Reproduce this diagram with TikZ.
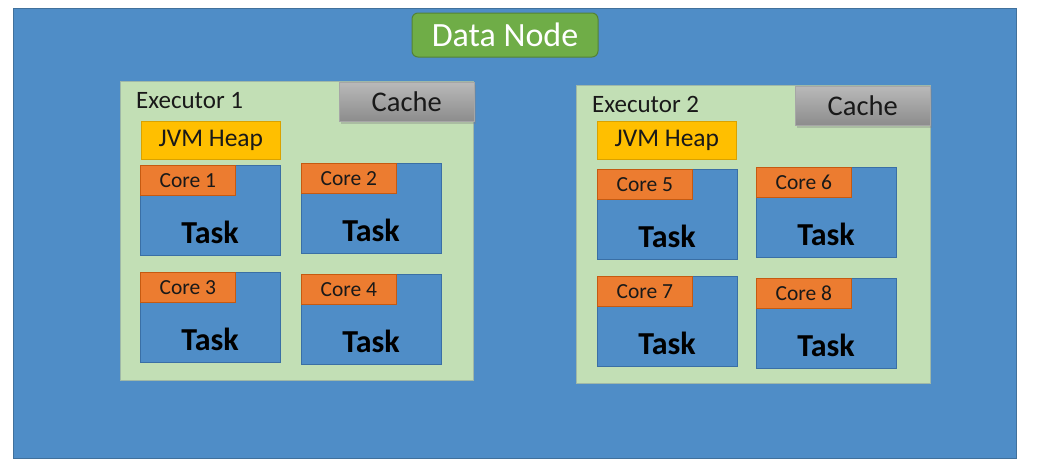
\documentclass[tikz,border=0pt]{standalone}
\usepackage{fontspec}
\setmainfont{Carlito}
\usetikzlibrary{shadows}
\definecolor{nodeblue}{HTML}{4F8DC7}
\definecolor{nodeline}{HTML}{41719C}
\definecolor{execgreen}{HTML}{C2DFB5}
\definecolor{execline}{HTML}{9FB8A8}
\definecolor{dngreen}{HTML}{6FAD47}
\definecolor{dnline}{HTML}{548235}
\definecolor{coreorange}{HTML}{EC7C30}
\definecolor{coreline}{HTML}{C55A11}
\definecolor{heapyellow}{HTML}{FFBF00}
\definecolor{heapline}{HTML}{D9A200}
\definecolor{taskline}{HTML}{3A6FA5}

\begin{document}
\begin{tikzpicture}
[x=1pt, y=-1pt,
 datanode/.style={draw=dnline, fill=dngreen, line width=1pt, rounded corners=6pt,
   minimum width=186pt, minimum height=44pt, text=white, font=\fontsize{34}{34}\selectfont},
 execbox/.style={draw=execline, fill=execgreen, line width=0.8pt, anchor=north west, inner sep=0pt},
 execlabel/.style={anchor=base west, inner sep=0pt, text=black!90, font=\fontsize{25}{25}\selectfont},
 cachebox/.style={anchor=north west, minimum width=135pt, minimum height=39pt, inner sep=0pt,
   top color=gray!55, bottom color=gray!90, draw=gray!70, line width=0.5pt,
   drop shadow={shadow xshift=2pt, shadow yshift=-3pt, opacity=0.35},
   text=black!90, font=\fontsize{28.5}{28.5}\selectfont},
 heapbox/.style={draw=heapline, fill=heapyellow, line width=0.8pt, anchor=north west,
   minimum width=139pt, minimum height=38pt, inner sep=0pt, text=black!90,
   font=\fontsize{25.5}{25.5}\selectfont},
 taskbox/.style={draw=taskline, fill=nodeblue, line width=0.8pt, anchor=north west,
   minimum width=140pt, minimum height=90pt, inner sep=0pt},
 corebox/.style={draw=coreline, fill=coreorange, line width=0.8pt, anchor=north west,
   minimum width=95pt, minimum height=30pt, inner sep=0pt, text=black!90,
   font=\fontsize{21.5}{21.5}\selectfont},
 tasklabel/.style={anchor=base, inner sep=0pt, font=\fontsize{32}{32}\selectfont\bfseries}]
\useasboundingbox (0,0) rectangle (1038,475);
\node [draw=nodeline, fill=nodeblue, line width=1pt, anchor=north west, inner sep=0pt,
  minimum width=1003pt, minimum height=450pt] (datanode) at (13,8) {};
\node [datanode] (dnlabel) at (505,35) {Data Node};

% executors
\node [execbox, minimum width=353pt, minimum height=299pt] (exec1) at (120,81) {};
\node [execbox, minimum width=354pt, minimum height=298pt] (exec2) at (576,85) {};
\node [execlabel] (exlabel1) at (136,108) {Executor 1};
\node [execlabel] (exlabel2) at (592,112) {Executor 2};
\node [cachebox] (cache1) at (339,82) {Cache};
\node [cachebox] (cache2) at (795,86) {Cache};
\node [heapbox] (heap1) at (141,121) {JVM Heap};
\node [heapbox] (heap2) at (597,121) {JVM Heap};

% cores and tasks
\foreach \i/\x/\y in {1/140/165, 2/301/163, 3/140/272, 4/301/274,
                      5/597/169, 6/756/167, 7/597/276, 8/756/278}{
	\node [taskbox] (task\i) at (\x,\y) {};
	\node [corebox] (core\i) at (\x,\y) {Core \i};
	\node [tasklabel] (tlabel\i) at (\x+70,\y+78) {Task};
}
\end{tikzpicture}
\end{document}
